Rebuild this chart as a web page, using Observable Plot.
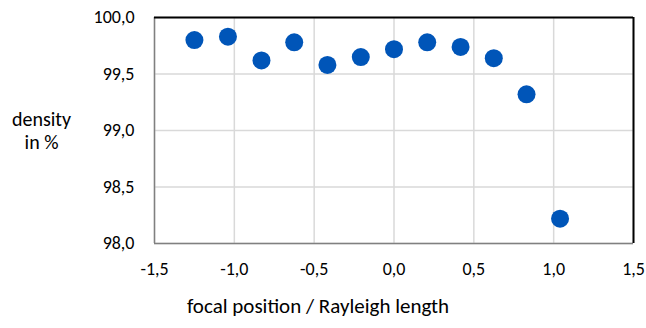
<!DOCTYPE html>
<html>
<head>
<meta charset="utf-8">
<script src="https://cdn.jsdelivr.net/npm/d3@7"></script>
<script src="https://cdn.jsdelivr.net/npm/@observablehq/plot@0.6"></script>
<style>
  html, body { margin: 0; padding: 0; background: #fff; }
  #chart svg { display: block; }
</style>
</head>
<body>
<div id="chart"></div>
<script>
const focalPosition = [-1.25, -1.04, -0.83, -0.625, -0.417, -0.208, 0, 0.208, 0.417, 0.625, 0.83, 1.04];
const density = [99.80, 99.83, 99.62, 99.78, 99.58, 99.65, 99.72, 99.78, 99.74, 99.64, 99.32, 98.22];
const xTicks = [-1.5, -1.0, -0.5, 0.0, 0.5, 1.0, 1.5];
const yTicks = [98.0, 98.5, 99.0, 99.5, 100.0];
const xTitle = "focal position / Rayleigh length";
const yTitle = "density\nin %";

const data = focalPosition.map((x, i) => ({x, y: density[i]}));
const fmt = d => d.toFixed(1).replace(".", ",");
const font = "Carlito, Lato, 'Open Sans', sans-serif";

const chart = Plot.plot({
  width: 646,
  height: 328,
  marginLeft: 154,
  marginRight: 13,
  marginTop: 17,
  marginBottom: 85,
  style: {fontFamily: font, fontSize: "18px", color: "#000", background: "#fff"},
  x: {domain: [-1.5, 1.5], ticks: xTicks, tickFormat: fmt, label: null},
  y: {domain: [98, 100], ticks: yTicks, tickFormat: fmt, label: null},
  marks: [
    Plot.gridX(xTicks, {stroke: "#d9d9d9", strokeOpacity: 1, strokeWidth: 1.5}),
    Plot.gridY(yTicks, {stroke: "#d9d9d9", strokeOpacity: 1, strokeWidth: 1.5}),
    Plot.axisX(xTicks, {tickSize: 0, tickPadding: 19, tickFormat: fmt, label: null, fontSize: 18}),
    Plot.axisY(yTicks, {tickSize: 0, tickPadding: 20, tickFormat: fmt, label: null, fontSize: 18}),
    Plot.ruleX([-1.5], {stroke: "#808080", strokeWidth: 1.5}),
    Plot.ruleY([98], {stroke: "#808080", strokeWidth: 1.5}),
    Plot.ruleX([1.5], {stroke: "#000", strokeWidth: 2}),
    Plot.ruleY([100], {stroke: "#000", strokeWidth: 2}),
    Plot.dot(data, {x: "x", y: "y", r: 9, fill: "#0055B8", stroke: "none"}),
    Plot.text([xTitle], {frameAnchor: "bottom", lineAnchor: "middle", textAnchor: "middle", dx: -76, dy: 63, text: d => d, fontSize: 21, fill: "#000"}),
    Plot.text([yTitle], {frameAnchor: "left", lineAnchor: "middle", textAnchor: "middle", dx: -113, dy: 0, text: d => d, fontSize: 20, lineHeight: 1.15, fill: "#000"})
  ]
});
document.getElementById("chart").appendChild(chart);
</script>
</body>
</html>
